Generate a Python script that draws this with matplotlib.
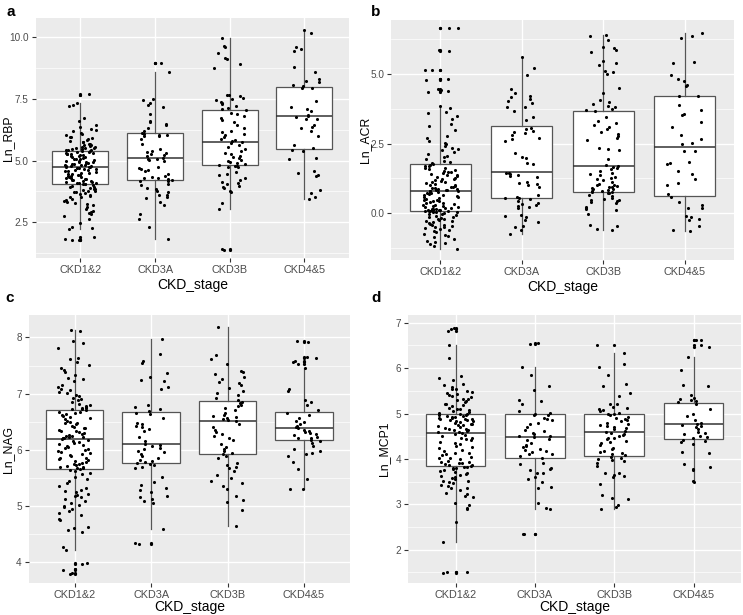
import numpy as np
import matplotlib
matplotlib.use("Agg")
from matplotlib import pyplot as plt
from matplotlib.ticker import MultipleLocator

plt.rcParams['font.family'] = ['Liberation Sans', 'DejaVu Sans']

stages = ["CKD1&2", "CKD3A", "CKD3B", "CKD4&5"]

# ---- panel a: Ln_RBP ----
rbp_ckd12 = [7.69, 7.68, 7.36, 7.27, 7.21, 6.74, 6.61, 6.43, 6.37, 6.28, 6.23, 6.19, 6.12, 6.07, 6.04, 5.98,
             5.96, 5.91, 5.88, 5.83, 5.79, 5.77, 5.74, 5.69, 5.68, 5.64, 5.63, 5.59, 5.57, 5.56, 5.53, 5.52,
             5.50, 5.48, 5.47, 5.45, 5.44, 5.42, 5.40, 5.38, 5.36, 5.35, 5.32, 5.31, 5.29, 5.28, 5.26, 5.23,
             5.22, 5.19, 5.17, 5.16, 5.13, 5.11, 5.08, 5.06, 5.05, 5.02, 5.00, 4.98, 4.96, 4.95, 4.93, 4.91,
             4.89, 4.87, 4.86, 4.84, 4.82, 4.81, 4.79, 4.78, 4.77, 4.76, 4.75, 4.73, 4.71, 4.69, 4.67, 4.66,
             4.63, 4.61, 4.58, 4.57, 4.54, 4.52, 4.49, 4.47, 4.46, 4.43, 4.41, 4.38, 4.37, 4.35, 4.32, 4.31,
             4.28, 4.26, 4.24, 4.22, 4.21, 4.18, 4.16, 4.15, 4.13, 4.11, 4.10, 4.08, 4.07, 4.05, 4.04, 4.01,
             3.98, 3.95, 3.92, 3.89, 3.87, 3.84, 3.81, 3.79, 3.77, 3.73, 3.71, 3.69, 3.65, 3.62, 3.57, 3.54,
             3.51, 3.46, 3.41, 3.38, 3.33, 3.29, 3.24, 3.19, 3.14, 3.06, 2.97, 2.91, 2.87, 2.82, 2.74, 2.64,
             2.47, 2.31, 2.26, 2.23, 1.92, 1.82, 1.80, 1.80]
rbp_ckd3a = [8.97, 8.96, 8.60, 7.52, 7.47, 7.33, 7.27, 7.18, 6.90, 6.63, 6.57, 6.49, 6.44, 6.31, 6.22, 6.11,
             6.09, 6.06, 6.04, 6.02, 6.00, 5.86, 5.67, 5.46, 5.41, 5.36, 5.31, 5.27, 5.23, 5.17, 5.11, 5.08,
             5.06, 5.02, 4.98, 4.76, 4.71, 4.68, 4.63, 4.59, 4.46, 4.39, 4.34, 4.31, 4.28, 4.25, 4.22, 4.19,
             4.17, 4.07, 4.01, 3.91, 3.86, 3.77, 3.71, 3.62, 3.59, 3.54, 3.49, 3.31, 3.19, 2.83, 2.65, 2.31, 1.82]
rbp_ckd3b = [9.96, 9.65, 9.62, 9.35, 9.16, 9.12, 8.93, 8.78, 7.68, 7.66, 7.61, 7.56, 7.51, 7.46, 7.39, 7.34,
             7.31, 7.22, 7.14, 7.11, 7.06, 6.95, 6.88, 6.81, 6.72, 6.64, 6.56, 6.45, 6.33, 6.21, 6.15, 6.10,
             6.04, 5.96, 5.89, 5.83, 5.79, 5.76, 5.71, 5.62, 5.56, 5.49, 5.41, 5.33, 5.28, 5.21, 5.15, 5.09,
             5.04, 4.99, 4.95, 4.91, 4.86, 4.83, 4.80, 4.78, 4.76, 4.73, 4.56, 4.45, 4.41, 4.30, 4.21, 4.13,
             4.10, 4.04, 3.99, 3.92, 3.88, 3.76, 3.71, 3.29, 3.04, 1.41, 1.38]
rbp_ckd45 = [10.32, 10.18, 9.63, 9.55, 9.46, 8.82, 8.58, 8.33, 8.25, 8.21, 8.06, 8.01, 7.96, 7.93, 7.42, 7.16,
             7.08, 7.03, 6.86, 6.82, 6.79, 6.71, 6.68, 6.43, 6.36, 6.31, 6.21, 6.02, 5.63, 5.51, 5.43, 5.39,
             5.11, 5.06, 4.58, 4.51, 4.42, 4.39, 3.81, 3.69, 3.51, 3.45]
rbp_q1 = [4.04, 4.21, 4.81, 5.47]
rbp_med = [4.74, 5.10, 5.77, 6.80]
rbp_q3 = [5.41, 6.12, 7.05, 8.00]
rbp_lo = [2.23, 1.82, 3.04, 3.45]
rbp_hi = [7.36, 8.60, 9.96, 10.32]
rbp_ticks = [2.5, 5.0, 7.5, 10.0]
rbp_ticklabels = ["2.5", "5.0", "7.5", "10.0"]

# ---- panel b: Ln_ACR ----
acr_ckd12 = [6.65, 6.64, 5.85, 5.84, 5.15, 5.14, 4.83, 4.82, 4.80, 4.45, 4.41, 4.38, 4.36, 3.85, 3.78, 3.62,
             3.59, 3.49, 3.38, 3.22, 3.14, 2.99, 2.76, 2.71, 2.58, 2.53, 2.49, 2.41, 2.36, 2.32, 2.28, 2.21,
             2.14, 2.07, 2.01, 1.95, 1.88, 1.84, 1.80, 1.78, 1.75, 1.71, 1.68, 1.64, 1.61, 1.59, 1.56, 1.52,
             1.49, 1.47, 1.44, 1.41, 1.39, 1.36, 1.33, 1.31, 1.27, 1.24, 1.22, 1.19, 1.16, 1.14, 1.11, 1.08,
             1.06, 1.03, 1.01, 0.99, 0.96, 0.94, 0.91, 0.89, 0.87, 0.86, 0.84, 0.83, 0.82, 0.81, 0.80, 0.79,
             0.77, 0.75, 0.73, 0.71, 0.69, 0.66, 0.64, 0.61, 0.59, 0.57, 0.54, 0.52, 0.49, 0.47, 0.45, 0.43,
             0.41, 0.38, 0.36, 0.34, 0.31, 0.29, 0.27, 0.25, 0.23, 0.21, 0.19, 0.18, 0.16, 0.15, 0.14, 0.13,
             0.12, 0.11, 0.10, 0.10, 0.09, 0.09, 0.08, 0.08, 0.06, 0.05, 0.03, 0.01, -0.01, -0.04, -0.07, -0.09,
             -0.12, -0.14, -0.17, -0.19, -0.22, -0.25, -0.27, -0.29, -0.33, -0.36, -0.39, -0.41, -0.43, -0.46,
             -0.49, -0.51, -0.54, -0.57, -0.61, -0.64, -0.69, -0.74, -0.79, -0.83, -0.86, -0.92, -0.99, -1.04,
             -1.08, -1.12, -1.16, -1.29]
acr_ckd3a = [5.60, 5.21, 4.98, 4.47, 4.32, 4.21, 4.16, 4.11, 4.05, 3.96, 3.83, 3.80, 3.68, 3.47, 3.36, 3.06,
             3.01, 2.95, 2.92, 2.90, 2.80, 2.70, 2.66, 2.58, 2.16, 2.01, 1.97, 1.82, 1.76, 1.46, 1.43, 1.41,
             1.38, 1.35, 1.31, 1.12, 1.09, 1.05, 1.01, 0.96, 0.66, 0.58, 0.56, 0.53, 0.51, 0.43, 0.38, 0.35,
             0.31, 0.26, 0.21, 0.18, -0.05, -0.09, -0.12, -0.26, -0.31, -0.46, -0.51, -0.61, -0.74]
acr_ckd3b = [6.42, 6.35, 6.21, 5.98, 5.92, 5.86, 5.81, 5.46, 5.41, 5.31, 5.12, 5.06, 5.01, 4.51, 4.31, 4.08,
             4.01, 3.92, 3.86, 3.81, 3.75, 3.71, 3.66, 3.46, 3.31, 3.23, 3.18, 3.11, 3.01, 2.91, 2.86, 2.76,
             2.71, 2.63, 2.36, 2.31, 2.28, 1.96, 1.72, 1.70, 1.66, 1.62, 1.58, 1.51, 1.46, 1.42, 1.36, 1.31,
             1.26, 1.22, 1.18, 1.11, 1.06, 1.03, 1.01, 0.98, 0.96, 0.93, 0.91, 0.88, 0.86, 0.83, 0.81, 0.79,
             0.78, 0.77, 0.73, 0.71, 0.66, 0.61, 0.56, 0.51, 0.48, 0.46, 0.43, 0.41, 0.38, 0.21, 0.19, 0.16,
             0.11, -0.04, -0.41, -0.46, -0.56, -0.60]
acr_ckd45 = [6.46, 6.38, 6.30, 5.42, 5.40, 4.98, 4.81, 4.76, 4.62, 4.58, 4.22, 4.20, 3.90, 3.72, 3.58, 3.52,
             3.28, 3.10, 2.80, 2.65, 2.52, 2.48, 2.25, 2.22, 1.85, 1.82, 1.78, 1.52, 1.42, 1.22, 1.08, 1.00,
             0.70, 0.58, 0.40, 0.30, 0.20, 0.18, -0.10, -0.15, -0.20, -0.25, -0.45, -0.60, -0.62]
acr_q1 = [0.08, 0.55, 0.76, 0.61]
acr_med = [0.79, 1.47, 1.69, 2.38]
acr_q3 = [1.76, 3.12, 3.67, 4.21]
acr_lo = [-1.29, -0.74, -0.60, -0.62]
acr_hi = [3.85, 5.60, 6.42, 6.46]
acr_ticks = [0.0, 2.5, 5.0]
acr_ticklabels = ["0.0", "2.5", "5.0"]

# ---- panel c: Ln_NAG ----
nag_ckd12 = [8.14, 8.12, 7.93, 7.90, 7.82, 7.63, 7.61, 7.56, 7.51, 7.45, 7.42, 7.39, 7.33, 7.28, 7.26, 7.22,
             7.16, 7.12, 7.09, 7.06, 7.03, 7.01, 6.98, 6.96, 6.93, 6.90, 6.88, 6.85, 6.82, 6.80, 6.78, 6.76,
             6.75, 6.74, 6.73, 6.72, 6.70, 6.68, 6.67, 6.65, 6.63, 6.61, 6.60, 6.58, 6.56, 6.54, 6.52, 6.50,
             6.48, 6.47, 6.45, 6.43, 6.41, 6.39, 6.38, 6.36, 6.34, 6.33, 6.31, 6.30, 6.28, 6.27, 6.25, 6.24,
             6.23, 6.22, 6.21, 6.20, 6.20, 6.19, 6.18, 6.16, 6.14, 6.12, 6.11, 6.09, 6.07, 6.05, 6.03, 6.01,
             5.99, 5.97, 5.96, 5.94, 5.92, 5.90, 5.88, 5.86, 5.85, 5.83, 5.81, 5.80, 5.78, 5.77, 5.75, 5.74,
             5.72, 5.71, 5.70, 5.69, 5.68, 5.67, 5.66, 5.64, 5.62, 5.59, 5.56, 5.52, 5.48, 5.45, 5.40, 5.36,
             5.32, 5.29, 5.27, 5.25, 5.22, 5.20, 5.18, 5.15, 5.12, 5.09, 5.05, 5.02, 5.00, 4.98, 4.95, 4.91,
             4.87, 4.84, 4.77, 4.74, 4.62, 4.60, 4.57, 4.54, 4.26, 4.22, 3.98, 3.97, 3.88, 3.86, 3.80, 3.79]
nag_ckd3a = [7.97, 7.70, 7.58, 7.55, 7.37, 7.30, 7.25, 7.22, 7.12, 7.08, 6.80, 6.76, 6.73, 6.69, 6.66, 6.63,
             6.56, 6.48, 6.46, 6.42, 6.40, 6.37, 6.34, 6.22, 6.16, 6.11, 6.09, 6.06, 6.03, 6.01, 5.98, 5.96,
             5.93, 5.88, 5.85, 5.82, 5.80, 5.78, 5.77, 5.75, 5.72, 5.70, 5.68, 5.51, 5.42, 5.38, 5.31, 5.28,
             5.25, 5.18, 5.15, 5.12, 5.08, 5.05, 4.59, 4.33, 4.32]
nag_ckd3b = [8.18, 7.68, 7.61, 7.52, 7.41, 7.38, 7.35, 7.30, 7.26, 7.21, 7.18, 7.15, 7.10, 7.05, 7.01, 6.98,
             6.92, 6.88, 6.85, 6.83, 6.80, 6.78, 6.75, 6.70, 6.66, 6.62, 6.60, 6.58, 6.57, 6.55, 6.53, 6.51,
             6.46, 6.40, 6.35, 6.31, 6.28, 6.25, 6.21, 6.18, 6.11, 6.05, 6.01, 5.98, 5.95, 5.93, 5.89, 5.85,
             5.76, 5.72, 5.70, 5.68, 5.62, 5.55, 5.50, 5.45, 5.41, 5.35, 5.30, 5.18, 5.10, 5.06, 4.93, 4.65]
nag_ckd45 = [7.93, 7.92, 7.65, 7.64, 7.58, 7.56, 7.52, 7.45, 7.08, 7.05, 6.88, 6.85, 6.80, 6.70, 6.66, 6.62,
             6.56, 6.52, 6.50, 6.46, 6.43, 6.40, 6.38, 6.36, 6.34, 6.32, 6.30, 6.28, 6.26, 6.23, 6.21, 6.20,
             6.18, 6.16, 6.12, 6.06, 6.02, 5.98, 5.95, 5.92, 5.88, 5.78, 5.65, 5.47, 5.30, 5.30]
nag_q1 = [5.66, 5.76, 5.92, 6.17]
nag_med = [6.19, 6.11, 6.52, 6.38]
nag_q3 = [6.71, 6.67, 6.86, 6.68]
nag_lo = [4.22, 4.59, 4.65, 5.30]
nag_hi = [8.14, 7.97, 8.18, 7.45]
nag_ticks = [4, 5, 6, 7, 8]
nag_ticklabels = ["4", "5", "6", "7", "8"]

# ---- panel d: Ln_MCP1 ----
mcp_ckd12 = [6.88, 6.86, 6.82, 6.52, 6.22, 5.82, 5.78, 5.73, 5.66, 5.63, 5.58, 5.55, 5.53, 5.50, 5.48, 5.46,
             5.44, 5.41, 5.39, 5.36, 5.33, 5.31, 5.29, 5.27, 5.25, 5.22, 5.20, 5.18, 5.16, 5.13, 5.11, 5.09,
             5.07, 5.05, 5.03, 5.02, 5.00, 4.99, 4.97, 4.96, 4.95, 4.94, 4.93, 4.92, 4.91, 4.90, 4.89, 4.88,
             4.87, 4.86, 4.85, 4.84, 4.83, 4.82, 4.80, 4.78, 4.77, 4.75, 4.74, 4.72, 4.70, 4.69, 4.67, 4.66,
             4.64, 4.63, 4.61, 4.60, 4.59, 4.58, 4.56, 4.53, 4.50, 4.47, 4.45, 4.44, 4.41, 4.38, 4.35, 4.32,
             4.29, 4.26, 4.23, 4.20, 4.17, 4.14, 4.12, 4.11, 4.08, 4.05, 4.02, 4.02, 3.99, 3.96, 3.94, 3.93,
             3.92, 3.90, 3.88, 3.87, 3.86, 3.85, 3.83, 3.82, 3.81, 3.79, 3.77, 3.75, 3.74, 3.72, 3.70, 3.67,
             3.64, 3.62, 3.61, 3.58, 3.55, 3.52, 3.51, 3.49, 3.46, 3.43, 3.40, 3.37, 3.35, 3.31, 3.26, 3.22,
             3.18, 3.16, 3.03, 2.98, 2.91, 2.89, 2.61, 2.17, 1.51, 1.50, 1.49]
mcp_ckd3a = [6.55, 6.54, 6.03, 5.85, 5.60, 5.52, 5.30, 5.28, 5.22, 5.05, 5.02, 5.00, 4.97, 4.96, 4.91, 4.88,
             4.86, 4.79, 4.76, 4.71, 4.64, 4.61, 4.58, 4.56, 4.51, 4.50, 4.48, 4.44, 4.41, 4.34, 4.31, 4.28,
             4.26, 4.21, 4.20, 4.17, 4.15, 4.11, 4.10, 4.06, 4.02, 3.92, 3.88, 3.80, 3.78, 3.75, 3.70, 3.68,
             3.60, 3.55, 3.50, 3.38, 3.35, 3.02, 2.92, 2.90, 2.35, 2.34]
mcp_ckd3b = [6.50, 6.34, 6.08, 6.03, 5.85, 5.65, 5.60, 5.45, 5.38, 5.22, 5.20, 5.15, 5.12, 5.10, 5.08, 5.05,
             5.02, 5.00, 4.98, 4.96, 4.92, 4.90, 4.87, 4.85, 4.83, 4.80, 4.77, 4.75, 4.73, 4.70, 4.68, 4.66,
             4.62, 4.60, 4.58, 4.55, 4.53, 4.50, 4.47, 4.45, 4.43, 4.40, 4.38, 4.35, 4.31, 4.25, 4.21, 4.18,
             4.16, 4.12, 4.10, 4.08, 4.05, 4.03, 4.00, 3.98, 3.95, 3.90, 3.85, 3.70, 3.68, 3.65, 3.62, 3.60,
             3.45, 3.20, 3.15, 3.12, 2.98, 2.95, 2.90]
mcp_ckd45 = [6.62, 6.61, 6.50, 6.47, 6.25, 5.95, 5.62, 5.60, 5.40, 5.35, 5.32, 5.30, 5.28, 5.25, 5.20, 5.10,
             5.00, 4.95, 4.85, 4.80, 4.78, 4.75, 4.72, 4.70, 4.65, 4.60, 4.58, 4.55, 4.50, 4.48, 4.45, 4.42,
             4.40, 4.38, 4.32, 4.15, 4.14, 3.88, 3.82, 3.78, 3.75, 3.52, 3.50]
mcp_q1 = [3.85, 4.03, 4.07, 4.43]
mcp_med = [4.58, 4.48, 4.59, 4.76]
mcp_q3 = [5.00, 5.00, 5.00, 5.23]
mcp_lo = [2.17, 2.90, 2.90, 3.50]
mcp_hi = [6.52, 6.03, 6.34, 6.25]
mcp_ticks = [2, 3, 4, 5, 6, 7]
mcp_ticklabels = ["2", "3", "4", "5", "6", "7"]

panels = [
    dict(letter="a", ylabel="Ln_RBP", groups=[rbp_ckd12, rbp_ckd3a, rbp_ckd3b, rbp_ckd45],
         q1=rbp_q1, med=rbp_med, q3=rbp_q3, lo=rbp_lo, hi=rbp_hi,
         ticks=rbp_ticks, labels=rbp_ticklabels, minor=1.25, ylim=(1.04, 10.77),
         rect=[0.0480, 0.580, 0.4221, 0.390], ylab_x=-0.088, xlab_y=-0.111, pos=(11, 12)),
    dict(letter="b", ylabel="Ln_ACR", groups=[acr_ckd12, acr_ckd3a, acr_ckd3b, acr_ckd45],
         q1=acr_q1, med=acr_med, q3=acr_q3, lo=acr_lo, hi=acr_hi,
         ticks=acr_ticks, labels=acr_ticklabels, minor=1.25, ylim=(-1.68, 6.94),
         rect=[0.5267, 0.5772, 0.4608, 0.3902], ylab_x=-0.077, xlab_y=-0.111, pos=(376, 12)),
    dict(letter="c", ylabel="Ln_NAG", groups=[nag_ckd12, nag_ckd3a, nag_ckd3b, nag_ckd45],
         q1=nag_q1, med=nag_med, q3=nag_q3, lo=nag_lo, hi=nag_hi,
         ticks=nag_ticks, labels=nag_ticklabels, minor=0.5, ylim=(3.62, 8.40),
         rect=[0.0386, 0.0515, 0.4324, 0.4363], ylab_x=-0.064, xlab_y=-0.088, pos=(10, 298)),
    dict(letter="d", ylabel="Ln_MCP1", groups=[mcp_ckd12, mcp_ckd3a, mcp_ckd3b, mcp_ckd45],
         q1=mcp_q1, med=mcp_med, q3=mcp_q3, lo=mcp_lo, hi=mcp_hi,
         ticks=mcp_ticks, labels=mcp_ticklabels, minor=0.5, ylim=(1.26, 7.17),
         rect=[0.549, 0.0515, 0.4486, 0.4363], ylab_x=-0.072, xlab_y=-0.088, pos=(376, 298)),
]

W, H = 743, 615
fig = plt.figure(figsize=(W / 100, H / 100), dpi=100, facecolor="white")

for p in panels:
    ax = fig.add_axes(p["rect"])
    ax.set_facecolor("#EBEBEB")
    ax.set_axisbelow(True)
    for s in ax.spines.values():
        s.set_visible(False)

    x = np.arange(1, 5)
    stats = []
    for i, g in enumerate(p["groups"]):
        fl = [v for v in g if v > p["hi"][i] + 1e-9 or v < p["lo"][i] - 1e-9]
        stats.append(dict(med=p["med"][i], q1=p["q1"][i], q3=p["q3"][i],
                          whislo=p["lo"][i], whishi=p["hi"][i], fliers=fl))
    ax.bxp(stats, positions=x, widths=0.75, patch_artist=True, showcaps=False,
           boxprops=dict(facecolor="white", edgecolor="#555555", linewidth=0.9),
           medianprops=dict(color="#333333", linewidth=1.1),
           whiskerprops=dict(color="#555555", linewidth=0.9),
           flierprops=dict(marker="o", markerfacecolor="black", markeredgecolor="none",
                           markersize=2.3))

    # jitter: deterministic hash spread around each stage
    for i, g in enumerate(p["groups"]):
        k = np.arange(len(g))
        u = np.modf(np.abs(np.sin(k * 12.9898 + i * 78.233 + len(g)) * 43758.5453))[0]
        off = (u - 0.5) * 2 * 0.22
        ax.scatter(x[i] + off, g, s=5, color="black", linewidths=0, zorder=3)

    ax.set_xlim(0.4, 4.6)
    ax.set_ylim(*p["ylim"])
    ax.set_xticks(x)
    ax.set_xticklabels(stages)
    ax.set_yticks(p["ticks"])
    ax.set_yticklabels(p["labels"])
    ax.yaxis.set_minor_locator(MultipleLocator(p["minor"]))
    ax.grid(which="major", color="white", linewidth=1.0)
    ax.grid(which="minor", axis="y", color="white", linewidth=0.5)
    ax.tick_params(which="major", length=3, width=0.8, color="#333333",
                   labelcolor="#4D4D4D", pad=2)
    ax.tick_params(axis="x", labelsize=7.8)
    ax.tick_params(axis="y", labelsize=7.2)
    ax.tick_params(which="minor", length=0)

    ax.set_xlabel("CKD_stage", fontsize=10, color="black", va="center")
    ax.xaxis.set_label_coords(0.5, p["xlab_y"])
    ax.set_ylabel(p["ylabel"], fontsize=8.8, color="black", va="center")
    ax.yaxis.set_label_coords(p["ylab_x"], 0.5)

    fig.text(p["pos"][0] / W, 1 - p["pos"][1] / H, p["letter"], fontsize=11,
             fontweight="bold", ha="center", va="center")

fig.savefig("out.png", dpi=100, facecolor="white")
